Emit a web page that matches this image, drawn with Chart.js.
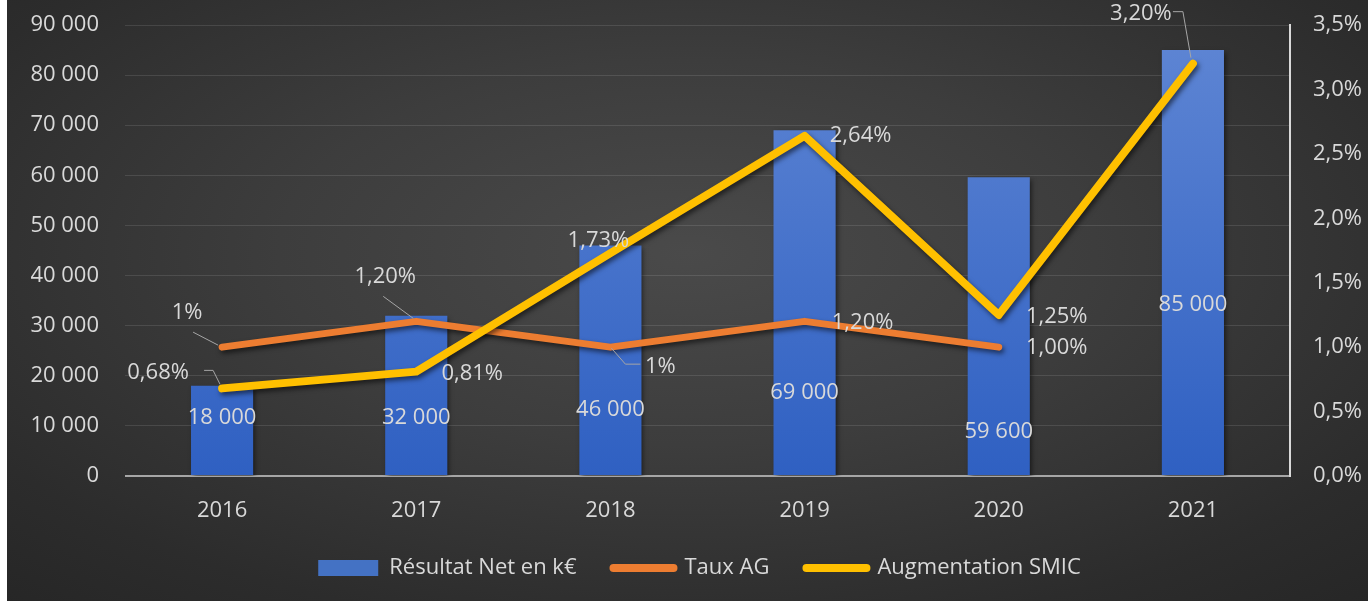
<!DOCTYPE html>
<html>
<head>
<meta charset="utf-8">
<script src="https://cdn.jsdelivr.net/npm/chart.js@4"></script>
<style>
  html, body { margin: 0; padding: 0; background: #fff; }
  #wrap {
    position: absolute; left: 7px; top: 0; width: 1361px; height: 601px;
    background: radial-gradient(ellipse 75% 80% at 50% 42%, #4a4a4a 0%, #3d3d3d 40%, #2c2c2c 80%, #262626 100%);
  }
  canvas { display: block; }
</style>
</head>
<body>
<div id="wrap"><canvas id="chart" width="1361" height="601"></canvas></div>
<script>
// data
const years = ['2016', '2017', '2018', '2019', '2020', '2021'];
const resultatNet = [18000, 32000, 46000, 69000, 59600, 85000];
const tauxAG = [1, 1.2, 1, 1.2, 1.0, null];
const tauxAGLabels = ['1%', '1,20%', '1%', '1,20%', '1,00%', ''];
const smic = [0.68, 0.81, 1.73, 2.64, 1.25, 3.20];
const smicLabels = ['0,68%', '0,81%', '1,73%', '2,64%', '1,25%', '3,20%'];

const FONT = '"Open Sans", sans-serif';
const TEXT = '#d9d9d9';

function thousands(v) {
    return String(v).replace(/\B(?=(\d{3})+(?!\d))/g, ' ');
}

// where each data label goes, relative to its point (dx, dy of text centre), plus leader line
const labelPlace = {
    bar: [-57, -57, -65, -82, -43, -170], // offset from the bar base
    taux: [
        { dx: -35, dy: -34, leader: [[-29, -15], [-4, -2]] },
        { dx: -31, dy: -45, leader: [[-33, -25], [-3, -3]] },
        { dx: 50, dy: 20, leader: [[1, 1], [15, 17], [30, 17]] },
        { dx: 58, dy: 1 },
        { dx: 58, dy: 1 },
        null
    ],
    smic: [
        { dx: -64, dy: -16, leader: [[-18, -18], [-9, -18], [-2, -4]] },
        { dx: 56, dy: 2 },
        { dx: -12, dy: -12 },
        { dx: 56, dy: 0 },
        { dx: 58, dy: 2 },
        { dx: -52, dy: -50, leader: [[-20, -52], [-10, -52], [-2, -6]] }
    ]
};

const dataLabels = {
    id: 'dataLabels',
    afterDatasetsDraw(chart) {
        const ctx = chart.ctx;
        ctx.save();
        ctx.font = '22px ' + FONT;
        ctx.fillStyle = TEXT;
        ctx.textAlign = 'center';
        ctx.textBaseline = 'middle';

        // bars
        chart.getDatasetMeta(0).data.forEach((el, i) => {
            ctx.fillText(thousands(resultatNet[i]), el.x, el.base + labelPlace.bar[i]);
        });

        const drawLine = (metaIndex, texts, places) => {
            chart.getDatasetMeta(metaIndex).data.forEach((el, i) => {
                const p = places[i];
                if (!p || !texts[i]) return;
                if (p.leader) {
                    ctx.strokeStyle = '#a6a6a6';
                    ctx.lineWidth = 1;
                    ctx.beginPath();
                    p.leader.forEach((pt, k) => {
                        if (k === 0) ctx.moveTo(el.x + pt[0], el.y + pt[1]);
                        else ctx.lineTo(el.x + pt[0], el.y + pt[1]);
                    });
                    ctx.stroke();
                }
                ctx.fillText(texts[i], el.x + p.dx, el.y + p.dy);
            });
        };
        drawLine(1, tauxAGLabels, labelPlace.taux);
        drawLine(2, smicLabels, labelPlace.smic);
        ctx.restore();
    }
};

// soft drop shadow like the office chart
const shadows = {
    id: 'shadows',
    beforeDatasetDraw(chart, args) {
        const ctx = chart.ctx;
        ctx.save();
        ctx.shadowColor = 'rgba(0,0,0,0.55)';
        ctx.shadowBlur = 5;
        ctx.shadowOffsetX = 2;
        ctx.shadowOffsetY = 3;
    },
    afterDatasetDraw(chart) {
        chart.ctx.restore();
    }
};

function barGradient(context) {
    const area = context.chart.chartArea;
    if (!area) return '#4472c4';
    const g = context.chart.ctx.createLinearGradient(0, area.top, 0, area.bottom);
    g.addColorStop(0, '#5f86d4');
    g.addColorStop(1, '#2f60c2');
    return g;
}

new Chart(document.getElementById('chart'), {
    data: {
        labels: years,
        datasets: [
            {
                type: 'bar',
                label: 'Résultat Net en k€',
                data: resultatNet,
                backgroundColor: barGradient,
                barPercentage: 0.32,
                categoryPercentage: 1,
                yAxisID: 'y',
                order: 3
            },
            {
                type: 'line',
                label: 'Taux AG',
                data: tauxAG,
                borderColor: '#ed7d31',
                backgroundColor: '#ed7d31',
                borderWidth: 7,
                borderCapStyle: 'round',
                borderJoinStyle: 'round',
                pointRadius: 0,
                tension: 0,
                yAxisID: 'y2',
                order: 2
            },
            {
                type: 'line',
                label: 'Augmentation SMIC',
                data: smic,
                borderColor: '#ffc000',
                backgroundColor: '#ffc000',
                borderWidth: 8,
                borderCapStyle: 'round',
                borderJoinStyle: 'round',
                pointRadius: 0,
                tension: 0,
                yAxisID: 'y2',
                order: 1
            }
        ]
    },
    options: {
        responsive: false,
        animation: false,
        layout: { padding: { top: 25, left: 24, right: 0, bottom: 12 } },
        plugins: {
            tooltip: { enabled: false },
            legend: {
                position: 'bottom',
                labels: {
                    color: TEXT,
                    font: { family: FONT, size: 22 },
                    usePointStyle: true,
                    pointStyleWidth: 60,
                    boxHeight: 16,
                    padding: 37,
                    sort: (a, b) => a.datasetIndex - b.datasetIndex,
                    generateLabels(chart) {
                        const items = Chart.defaults.plugins.legend.labels.generateLabels(chart);
                        items.forEach(it => {
                            const ds = chart.data.datasets[it.datasetIndex];
                            if (ds.type === 'bar') {
                                it.pointStyle = 'rect';
                                it.fillStyle = '#4472c4';
                                it.strokeStyle = '#4472c4';
                                it.lineWidth = 0;
                            } else {
                                it.pointStyle = 'line';
                                it.strokeStyle = ds.borderColor;
                                it.lineWidth = 8;
                                it.lineCap = 'round';
                            }
                            it.fontColor = TEXT;
                        });
                        return items;
                    }
                }
            }
        },
        scales: {
            x: {
                offset: true,
                grid: { display: false, drawTicks: false },
                border: { display: false },
                ticks: { color: TEXT, font: { family: FONT, size: 22 }, padding: 22 },
                afterFit(scale) { scale.height = 44; }
            },
            y: {
                position: 'left',
                min: 0,
                max: 90000,
                ticks: {
                    stepSize: 10000,
                    color: TEXT,
                    font: { family: FONT, size: 22 },
                    padding: 26,
                    callback: v => thousands(v)
                },
                grid: {
                    drawTicks: false,
                    color: c => c.tick.value === 0 ? '#a6a6a6' : 'rgba(255,255,255,0.11)',
                    lineWidth: c => c.tick.value === 0 ? 2 : 1
                },
                border: { display: false },
                afterFit(scale) { scale.width = 94; scale.paddingTop = 0; scale.paddingBottom = 0; }
            },
            y2: {
                position: 'right',
                min: 0,
                max: 3.5,
                ticks: {
                    stepSize: 0.5,
                    color: TEXT,
                    font: { family: FONT, size: 22 },
                    padding: 23,
                    callback: v => v.toFixed(1).replace('.', ',') + '%'
                },
                grid: { display: false, drawTicks: false },
                border: { display: true, color: '#d9d9d9', width: 2 },
                afterFit(scale) { scale.width = 78; scale.paddingTop = 0; scale.paddingBottom = 0; }
            }
        }
    },
    plugins: [shadows, dataLabels]
});
</script>
</body>
</html>
